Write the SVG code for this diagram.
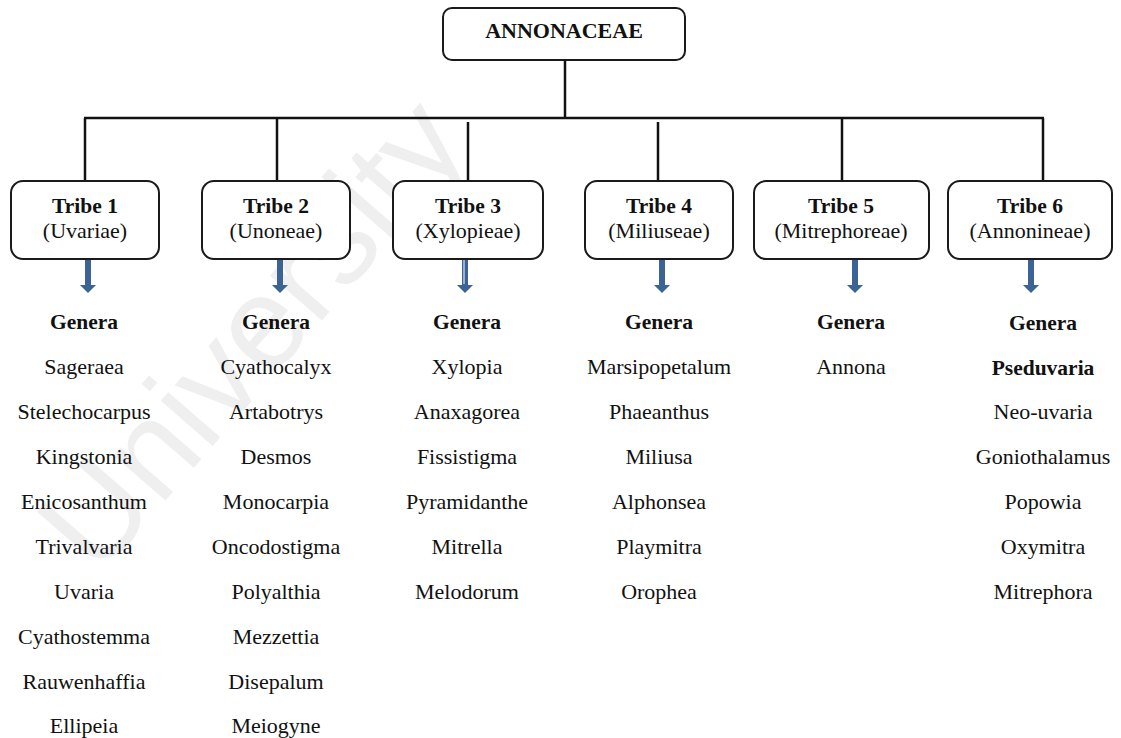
<svg xmlns="http://www.w3.org/2000/svg" width="1121" height="738" viewBox="0 0 1121 738">
  <defs>
    <style>
      .box { fill: #ffffff; stroke: #1a1a1a; stroke-width: 2; }
      .line { stroke: #111111; stroke-width: 2.5; fill: none; }
      .arrow { fill: #3b6396; }
      .t { font-family: "Liberation Serif", "Times New Roman", serif; fill: #111111; text-anchor: middle; }
      .b { font-weight: bold; font-size: 21.5px; }
      .r { font-size: 22px; }
      .wm { font-family: "Liberation Sans", Arial, sans-serif; font-size: 130px; fill: #efefef; }
    </style>
    <polygon id="arr" class="arrow" points="-3,258 3,258 3,285 8,285 0,293 -8,285 -3,285"/>
  </defs>
  <rect width="1121" height="738" fill="#ffffff"/>
  <text class="wm" transform="translate(98,578) rotate(-49)">University</text>

  <g id="connectors">
    <line class="line" x1="565" y1="60" x2="565" y2="118"/>
    <line class="line" x1="84" y1="118" x2="1044" y2="118"/>
    <line class="line" x1="85" y1="118" x2="85" y2="181"/>
    <line class="line" x1="277" y1="118" x2="277" y2="181"/>
    <line class="line" x1="468" y1="122" x2="468" y2="181"/>
    <line class="line" x1="658" y1="122" x2="658" y2="181"/>
    <line class="line" x1="842" y1="118" x2="842" y2="181"/>
    <line class="line" x1="1043" y1="118" x2="1043" y2="181"/>
    <use href="#arr" x="88"/>
    <use href="#arr" x="280"/>
    <use href="#arr" x="465"/>
    <line x1="464" y1="260" x2="464" y2="284" stroke="#ffffff" stroke-width="1"/>
    <use href="#arr" x="662"/>
    <use href="#arr" x="855"/>
    <use href="#arr" x="1031"/>
  </g>

  <g id="root">
    <rect class="box" x="443" y="8" width="242" height="52" rx="9"/>
    <text class="t b" x="564" y="38" style="font-size:22px">ANNONACEAE</text>
  </g>

  <g id="tribe1">
    <rect class="box" x="11" y="181" width="148" height="78" rx="12"/>
    <text class="t b" x="85" y="213">Tribe 1</text>
    <text class="t r" x="85" y="238">(Uvariae)</text>
  </g>
  <g id="tribe2">
    <rect class="box" x="202" y="181" width="148" height="78" rx="12"/>
    <text class="t b" x="276" y="213">Tribe 2</text>
    <text class="t r" x="276" y="238">(Unoneae)</text>
  </g>
  <g id="tribe3">
    <rect class="box" x="393" y="181" width="150" height="78" rx="12"/>
    <text class="t b" x="468" y="213">Tribe 3</text>
    <text class="t r" x="468" y="238">(Xylopieae)</text>
  </g>
  <g id="tribe4">
    <rect class="box" x="585" y="181" width="148" height="78" rx="12"/>
    <text class="t b" x="659" y="213">Tribe 4</text>
    <text class="t r" x="659" y="238">(Miliuseae)</text>
  </g>
  <g id="tribe5">
    <rect class="box" x="754" y="181" width="175" height="78" rx="12"/>
    <text class="t b" x="841" y="213">Tribe 5</text>
    <text class="t r" x="841" y="238">(Mitrephoreae)</text>
  </g>
  <g id="tribe6">
    <rect class="box" x="948" y="181" width="164" height="78" rx="12"/>
    <text class="t b" x="1030" y="213">Tribe 6</text>
    <text class="t r" x="1030" y="238">(Annonineae)</text>
  </g>

  <g id="genera1">
    <text class="t b" x="84" y="329">Genera</text>
    <text class="t r" x="84" y="374">Sageraea</text>
    <text class="t r" x="84" y="419">Stelechocarpus</text>
    <text class="t r" x="84" y="464">Kingstonia</text>
    <text class="t r" x="84" y="509">Enicosanthum</text>
    <text class="t r" x="84" y="554">Trivalvaria</text>
    <text class="t r" x="84" y="599">Uvaria</text>
    <text class="t r" x="84" y="644">Cyathostemma</text>
    <text class="t r" x="84" y="689">Rauwenhaffia</text>
    <text class="t r" x="84" y="733">Ellipeia</text>
  </g>
  <g id="genera2">
    <text class="t b" x="276" y="329">Genera</text>
    <text class="t r" x="276" y="374">Cyathocalyx</text>
    <text class="t r" x="276" y="419">Artabotrys</text>
    <text class="t r" x="276" y="464">Desmos</text>
    <text class="t r" x="276" y="509">Monocarpia</text>
    <text class="t r" x="276" y="554">Oncodostigma</text>
    <text class="t r" x="276" y="599">Polyalthia</text>
    <text class="t r" x="276" y="644">Mezzettia</text>
    <text class="t r" x="276" y="689">Disepalum</text>
    <text class="t r" x="276" y="733">Meiogyne</text>
  </g>
  <g id="genera3">
    <text class="t b" x="467" y="329">Genera</text>
    <text class="t r" x="467" y="374">Xylopia</text>
    <text class="t r" x="467" y="419">Anaxagorea</text>
    <text class="t r" x="467" y="464">Fissistigma</text>
    <text class="t r" x="467" y="509">Pyramidanthe</text>
    <text class="t r" x="467" y="554">Mitrella</text>
    <text class="t r" x="467" y="599">Melodorum</text>
  </g>
  <g id="genera4">
    <text class="t b" x="659" y="329">Genera</text>
    <text class="t r" x="659" y="374">Marsipopetalum</text>
    <text class="t r" x="659" y="419">Phaeanthus</text>
    <text class="t r" x="659" y="464">Miliusa</text>
    <text class="t r" x="659" y="509">Alphonsea</text>
    <text class="t r" x="659" y="554">Playmitra</text>
    <text class="t r" x="659" y="599">Orophea</text>
  </g>
  <g id="genera5">
    <text class="t b" x="851" y="329">Genera</text>
    <text class="t r" x="851" y="374">Annona</text>
  </g>
  <g id="genera6">
    <text class="t b" x="1043" y="330">Genera</text>
    <text class="t b" x="1043" y="375">Pseduvaria</text>
    <text class="t r" x="1043" y="419">Neo-uvaria</text>
    <text class="t r" x="1043" y="464">Goniothalamus</text>
    <text class="t r" x="1043" y="509">Popowia</text>
    <text class="t r" x="1043" y="554">Oxymitra</text>
    <text class="t r" x="1043" y="599">Mitrephora</text>
  </g>
</svg>
